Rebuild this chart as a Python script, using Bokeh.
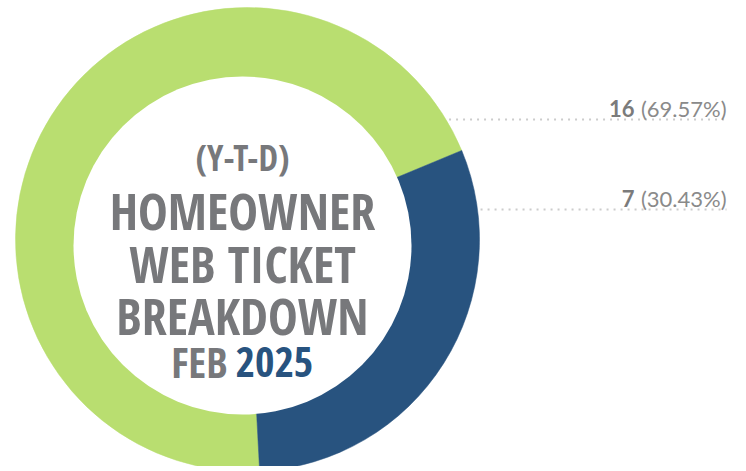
from bokeh.plotting import figure
from bokeh.models import Range1d, ColumnDataSource
from bokeh.core.properties import value
from bokeh.embed import file_html
from bokeh.resources import INLINE
import math

# ---------------- data ----------------
categories = ["Slice A", "Slice B"]
counts = [16, 7]
colors = ["#b9de70", "#28537f"]
title_lines = ["(Y-T-D)", "HOMEOWNER", "WEB TICKET", "BREAKDOWN"]
date_month = "FEB"
date_year = "2025"

# ---------------- layout constants (data y = 471 - screen y) ----------------
W, H = 736, 466
H_TOTAL = 471
def sy(y):
    return H_TOTAL - y

CX, CY, R = 247, sy(239), 232          # pie
HX, HY, HR = 242, sy(245), 169         # hole
START_DEG = -87.0                       # first slice start (math angle), clockwise

TITLE_FONT = "Open Sans Condensed"
LABEL_FONT = "Lato"
GRAY = "#77787b"

p = figure(width=W, height=H, output_backend="svg", toolbar_location=None,
           x_range=Range1d(0, W), y_range=Range1d(H_TOTAL - H, H_TOTAL),
           min_border=0, background_fill_color="white", border_fill_color="white")
p.axis.visible = False
p.grid.visible = False
p.outline_line_color = None

# ---------------- wedges ----------------
total = sum(counts)
starts, ends = [], []
a = math.radians(START_DEG)
for c in counts:
    span = 2 * math.pi * c / total
    starts.append(a)
    ends.append(a - span)
    a -= span
src = ColumnDataSource(dict(cat=categories, count=counts, color=colors, start=starts, end=ends))
p.wedge(x=CX, y=CY, radius=R, start_angle="start", end_angle="end", direction="clock",
        fill_color="color", line_color="color", line_width=0.5, source=src)
p.scatter(x=[HX], y=[HY], size=2 * HR, marker="circle", fill_color="white", line_color=None)

# ---------------- labels with dotted leaders ----------------
label_line_y = [sy(119), sy(209)]
label_base_y = [sy(108), sy(198)]
LABEL_RIGHT = 726
NUM_RIGHT = 634
for c, ly, by in zip(counts, label_line_y, label_base_y):
    dy = ly - CY
    x0 = CX + math.sqrt(R * R - dy * dy) + 3
    p.line([x0, LABEL_RIGHT], [ly, ly], line_color="#cccccc", line_width=2, line_dash="2 5")
    pct = "(%.2f%%)" % (100.0 * c / total)
    p.text(x=[LABEL_RIGHT], y=[by], text=[pct], text_font=value(LABEL_FONT),
           text_font_size="22px", text_color="#8a8a8a", text_align="right",
           text_baseline="alphabetic")
    p.text(x=[NUM_RIGHT], y=[by], text=[str(c)], text_font=value(LABEL_FONT),
           text_font_size="22px", text_font_style="bold", text_color="#7b7b7b",
           text_align="right", text_baseline="alphabetic")

# ---------------- centre title ----------------
title_base = [sy(157), sy(210), sy(263), sy(315)]
title_size = ["35px", "50px", "50px", "50px"]
for t, y, s in zip(title_lines, title_base, title_size):
    p.text(x=[HX], y=[y], text=[t], text_font=value(TITLE_FONT), text_font_size=s,
           text_font_style="bold", text_color=GRAY, text_align="center",
           text_baseline="alphabetic")
p.text(x=[HX - 15], y=[sy(361)], text=[date_month], text_font=value(TITLE_FONT),
       text_font_size="42px", text_font_style="bold", text_color=GRAY,
       text_align="right", text_baseline="alphabetic")
p.text(x=[HX - 7], y=[sy(361)], text=[date_year], text_font=value(TITLE_FONT),
       text_font_size="42px", text_font_style="bold", text_color=colors[1],
       text_align="left", text_baseline="alphabetic")

open("out.html", "w").write(file_html(p, INLINE))
